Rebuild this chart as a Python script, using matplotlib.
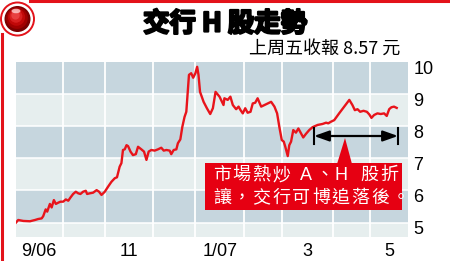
import numpy as np
import matplotlib
matplotlib.use("Agg")
import matplotlib.pyplot as plt
import matplotlib.transforms as mtransforms
import matplotlib.patheffects as pe
from matplotlib.patches import Rectangle, Polygon, Circle, Ellipse
from matplotlib.lines import Line2D

plt.rcParams['font.family'] = ['Noto Sans CJK TC', 'DejaVu Sans']

# 交行 H 股收市價（港元），x 為由 2006 年 9 月初起計的交易日
day = [0.0, 1.0, 3.3, 6.3, 8.6, 10.0, 11.6, 12.3, 13.4, 14.1, 15.3, 16.1, 17.1, 18.0,
       19.1, 20.1, 21.3, 22.5, 23.6, 24.6, 25.8, 27.0, 28.1, 29.1, 30.3, 31.5, 32.1,
       33.3, 34.8, 36.4, 37.5, 38.6, 40.1, 41.6, 43.1, 44.6, 45.6, 46.8, 47.6, 48.3,
       49.1, 49.9, 50.6, 51.7, 52.8, 54.1, 55.1, 56.6, 57.8, 58.9, 59.9, 61.1, 62.6,
       64.1, 65.6, 66.7, 67.9, 69.4, 70.1, 71.2, 72.4, 73.1, 74.2, 75.1, 76.1, 76.9,
       77.6, 78.1, 79.1, 80.0, 81.0, 81.8, 82.4, 83.1, 84.7, 86.2, 87.7, 88.9, 90.1, 91.9,
       93.7, 94.1, 95.6, 96.8, 97.9, 99.4, 100.5, 101.4, 102.4, 103.5, 104.6, 105.9,
       106.9, 108.0, 109.1, 110.7, 112.2, 113.6, 115.2, 116.7, 117.9, 118.9, 120.0,
       120.9, 121.6, 122.7, 123.4, 124.2, 125.2, 126.4, 127.5, 128.7, 129.7, 130.9,
       132.4, 133.9, 136.2, 138.4, 140.0, 141.0, 142.2, 143.7, 145.9, 148.2, 150.5,
       151.9, 153.0, 154.2, 155.4, 156.9, 158.4, 159.5, 160.5, 161.7, 163.2, 164.7,
       166.2, 167.4, 168.5, 169.5, 170.7, 171.9]
price = [5.00, 5.08, 5.05, 5.04, 5.08, 5.11, 5.13, 5.20, 5.41, 5.34, 5.58, 5.47, 5.70, 5.58,
         5.62, 5.65, 5.65, 5.72, 5.68, 5.78, 5.89, 5.96, 5.91, 5.89, 5.96, 5.99, 5.89,
         5.91, 5.93, 6.01, 5.96, 5.86, 5.96, 6.12, 6.27, 6.38, 6.41, 6.74, 6.85, 7.26,
         7.28, 7.41, 7.38, 7.21, 7.10, 7.13, 7.36, 7.28, 7.21, 6.95, 7.21, 7.26, 7.24,
         7.28, 7.33, 7.24, 7.26, 7.24, 7.13, 7.26, 7.28, 7.47, 7.59, 7.98, 8.29, 8.45,
         9.13, 9.60, 9.65, 9.51, 9.65, 9.85, 9.60, 9.07, 8.76, 8.56, 8.38, 8.56, 9.07,
         8.92, 8.66, 8.87, 8.82, 8.92, 8.66, 8.53, 8.61, 8.50, 8.40, 8.56, 8.42, 8.45,
         8.71, 8.73, 8.87, 8.61, 8.66, 8.71, 8.76, 8.61, 8.40, 7.98, 7.57,
         7.52, 7.36, 7.07, 7.41, 7.52, 7.88, 7.80, 7.93, 7.78, 7.65, 7.76,
         7.88, 7.97, 8.04, 8.07, 8.11, 8.09, 8.14, 8.19, 8.40, 8.61, 8.82,
         8.66, 8.50, 8.53, 8.45, 8.48, 8.45, 8.37, 8.26, 8.35, 8.40, 8.38,
         8.40, 8.32, 8.53, 8.59, 8.61, 8.57]

# 每月交易日數（9/06 至 5/07）
month_days = [21, 19, 22, 19, 22, 17, 23, 17, 17]
month_labels = ['9/06', '', '11', '', '1/07', '', '3', '', '5']
y_ticks = [5, 6, 7, 8, 9, 10]

W, H = 450, 261
fig = plt.figure(figsize=(W / 100, H / 100), dpi=100)
fig.patch.set_facecolor('white')


def px(x, y):
    return (x / W, 1 - y / H)


ax = fig.add_axes([16 / W, 1 - 237 / H, 392 / W, 175 / H])
ax.set_facecolor('#e6eeee')

edges = np.concatenate([[0], np.cumsum(month_days)])
centers = (edges[:-1] + edges[1:]) / 2

for lo in (5, 7, 9):
    ax.axhspan(lo, lo + 1, color='#c6d6de', lw=0, zorder=0)
for v in y_ticks[:-1]:
    ax.axhline(v, color='white', lw=1.1, zorder=1)
for e in edges[1:-1]:
    ax.axvline(e, color='white', lw=1.3, zorder=1)

ax.plot(day, price, color='#e8141b', lw=1.7, zorder=3, solid_joinstyle='round')

ax.set_xlim(0, edges[-1])
ax.set_ylim(4.55, 10)
for s in ax.spines.values():
    s.set_visible(False)

ax.set_xticks(centers[::2])
ax.set_xticklabels(month_labels[::2], family='Liberation Sans', fontsize=13)
ax.yaxis.tick_right()
ax.set_yticks(y_ticks)
ax.set_yticklabels([str(v) for v in y_ticks], family='Liberation Sans', fontsize=13)
ax.tick_params(length=0)
ax.tick_params(axis='x', pad=4)
ax.tick_params(axis='y', pad=4)
shift = mtransforms.ScaledTranslation(0, -0.05, fig.dpi_scale_trans)
for lab in ax.get_yticklabels():
    lab.set_transform(lab.get_transform() + shift)

# 標題
fig.text(0.5, 1 - 24 / H, '交行 H 股走勢', ha='center', va='center', fontsize=19,
         fontweight='heavy', color='black',
         path_effects=[pe.withStroke(linewidth=1.6, foreground='black')])
fig.text(400 / W, 1 - 49 / H, '上周五收報 8.57 元', ha='right', va='center',
         fontsize=13, color='black')

# 雙箭嘴
ax.annotate('', xy=px(398, 136), xytext=px(314, 136), xycoords='figure fraction',
            textcoords='figure fraction',
            arrowprops=dict(arrowstyle='<|-|>,head_length=0.9,head_width=0.32',
                            mutation_scale=10, color='black', lw=1.6,
                            shrinkA=0, shrinkB=0), zorder=6)
for xb in (314, 398):
    ax.add_line(Line2D([xb / W, xb / W], [1 - 128 / H, 1 - 144 / H], color='black',
                       lw=1.5, transform=fig.transFigure, clip_on=False, zorder=6))

# 紅色註解框
red = '#e60012'
ax.add_patch(Rectangle(px(205, 210), 197 / W, 47 / H, transform=fig.transFigure,
                       facecolor=red, edgecolor='none', clip_on=False, zorder=7))
ax.add_patch(Polygon([px(337, 164), px(352, 164), px(345, 138)], closed=True,
                     transform=fig.transFigure, facecolor=red, edgecolor='none',
                     clip_on=False, zorder=7))
line1 = ['市', '場', '熱', '炒', 'A', '、', 'H', '股', '折']
line1_x = [222, 241, 261, 281, 306, 325, 341, 369, 389]
line2 = list('讓，交行可博追落後。')
for ch, xc in zip(line1, line1_x):
    ax.text(*px(xc, 175), ch, transform=fig.transFigure, ha='center', va='center',
            fontsize=13, color='white', zorder=8,
            family=['Liberation Sans'] if ch in 'AH' else ['Noto Sans CJK TC'])
for i, ch in enumerate(line2):
    ax.text(*px(222 + 19.8 * i, 198), ch, transform=fig.transFigure, ha='center',
            va='center', fontsize=13, color='white', zorder=8)

# 外框與紅球
fig.add_artist(Line2D([30 / W, 1], [1 - 1.2 / H, 1 - 1.2 / H], color='#e3121a', lw=2.2))
fig.add_artist(Line2D([1.5 / W, 1.5 / W], [1 - 34 / H, 0], color='#e3121a', lw=2.2))

bx = fig.add_axes([0, 1 - 40 / H, 40 / W, 40 / H])
bx.set_xlim(0, 40)
bx.set_ylim(40, 0)
bx.set_aspect('equal')
bx.axis('off')
bx.add_patch(Circle((17.5, 19), 16.5, facecolor='white', edgecolor='#e3121a', lw=1.4))
shades = ['#7a0000', '#a00000', '#c00808', '#d82020', '#e84040']
for k, c in enumerate(shades):
    r = 13 - k * 2.2
    bx.add_patch(Circle((17.5 - k * 0.5, 19 - k * 0.9), r, facecolor=c, edgecolor='none'))
bx.add_patch(Ellipse((16, 11), 9, 4.5, facecolor='#ffd0d0', edgecolor='none', alpha=0.8))

fig.savefig('out.png', dpi=100)
